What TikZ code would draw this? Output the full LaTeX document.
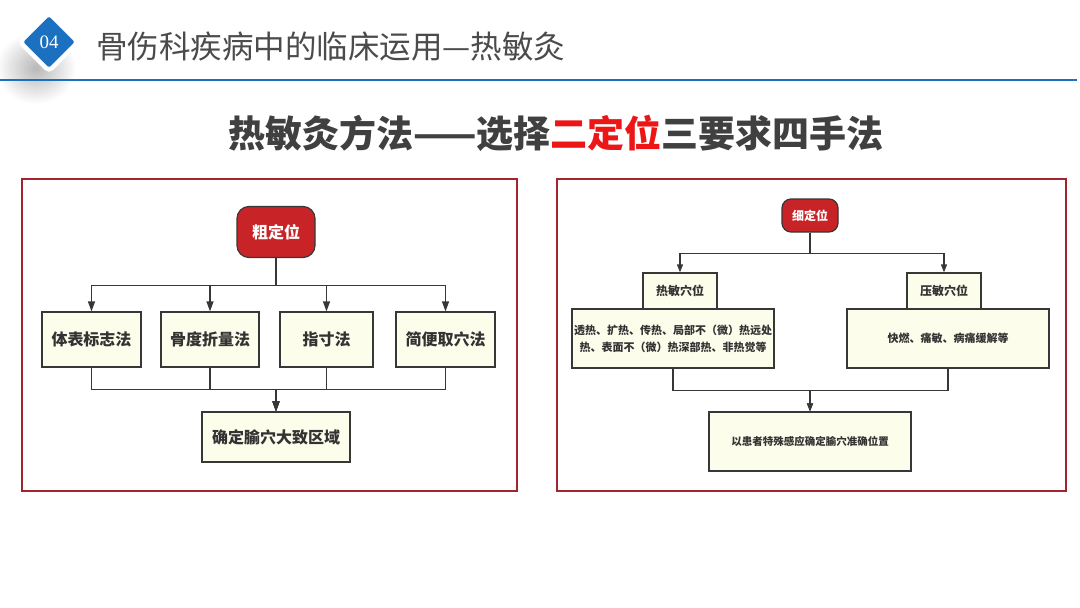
\documentclass[tikz,border=0pt]{standalone}
\usepackage{fontspec}
\setmainfont{Noto Sans CJK SC}
\newfontfamily\numfont{Liberation Serif}
\usepackage{xcolor}
\usetikzlibrary{arrows.meta}

\definecolor{hdblue}{RGB}{28,112,192}
\definecolor{hdgray}{RGB}{75,75,75}
\definecolor{ttgray}{RGB}{64,64,64}
\definecolor{ttred}{RGB}{236,22,22}
\definecolor{framered}{RGB}{165,35,45}
\definecolor{capred}{RGB}{200,36,40}
\definecolor{cream}{RGB}{253,253,236}
\definecolor{lk}{RGB}{55,55,55}

\newcommand{\fsz}[2]{\fontsize{#1pt}{#2pt}\selectfont}

\begin{document}
\begin{tikzpicture}[x=1pt, y=-1pt,
    capnode/.style={draw=lk, line width=1.2pt, fill=capred, text=white, inner sep=0pt},
    methodbox/.style={draw=lk, line width=1.2pt, fill=cream, text=black!80, inner sep=0pt, align=center},
    link/.style={draw=lk, line width=1.2pt},
    arr/.style={link, -{Triangle[length=10pt,width=7pt]}},
    sarr/.style={link, -{Triangle[length=8pt,width=6pt]}}]

    % page
    \fill[white] (0,0) rectangle (1080,608);
    \useasboundingbox (0,0) rectangle (1080,608);

    % Header
    \shade[inner color=black!28, outer color=white] (36,68) ellipse (40pt and 36pt);
    \node[draw=white, line width=4.5pt, fill=hdblue, rounded corners=4pt, minimum size=41pt, rotate=45] (num) at (49,42) {};
    \node[text=white, font=\numfont\fsz{19}{19}] at (num.center) {04};
    \draw[hdblue, line width=2.5pt] (0,80) -- (1077,80);
    \node[anchor=west, text=hdgray, font=\fsz{31.5}{31.5}, inner sep=0pt] (head) at (96,47) {骨伤科疾病中的临床运用—热敏灸};

    % Title
    \node[text=ttgray, font=\bfseries\fsz{37}{37}] (title) at (556,133)
        {热敏灸方法——选择\textcolor{ttred}{二定位}三要求四手法};

    % Frames
    \draw[framered, line width=2pt] (22,179) rectangle (517,491);
    \draw[framered, line width=2pt] (557,179) rectangle (1066,491);

    % Left: coarse positioning
    \node[capnode, rounded corners=12pt, minimum width=78pt, minimum height=51pt, font=\bfseries\fsz{16}{16}] (cu) at (276,232) {粗定位};

    \node[methodbox, minimum width=99pt, minimum height=55pt, font=\bfseries\fsz{16}{16}] (b1) at (91.5,339.5) {体表标志法};
    \node[methodbox, minimum width=98pt, minimum height=55pt, font=\bfseries\fsz{16}{16}] (b2) at (210,339.5) {骨度折量法};
    \node[methodbox, minimum width=93pt, minimum height=55pt, font=\bfseries\fsz{16}{16}] (b3) at (326.5,339.5) {指寸法};
    \node[methodbox, minimum width=99pt, minimum height=55pt, font=\bfseries\fsz{16}{16}] (b4) at (445.5,339.5) {简便取穴法};

    \node[methodbox, minimum width=148pt, minimum height=50pt, font=\bfseries\fsz{16}{16}] (res) at (276,437) {确定腧穴大致区域};

    \foreach \b in {b1,b2,b3,b4}
        \draw[arr] (cu.south) -- ++(0,27.5) -| (\b.north);
    \foreach \b in {b1,b2,b3,b4}
        \draw[arr] (\b.south) -- ++(0,22) -| (res.north);

    % Right: fine positioning
    \node[capnode, rounded corners=9pt, minimum width=56pt, minimum height=33pt, font=\bfseries\fsz{12}{12}] (xi) at (810,215.5) {细定位};

    \node[methodbox, minimum width=74pt, minimum height=36pt, font=\bfseries\fsz{12}{12}] (rm) at (680,291) {热敏穴位};
    \node[methodbox, minimum width=202pt, minimum height=59pt, font=\bfseries\fsz{11}{17}] (rmt) at (673,338.5)
        {透热、扩热、传热、局部不（微）热远处\\热、表面不（微）热深部热、非热觉等};

    \node[methodbox, minimum width=74pt, minimum height=36pt, font=\bfseries\fsz{12}{12}] (ym) at (944,291) {压敏穴位};
    \node[methodbox, minimum width=202pt, minimum height=59pt, font=\bfseries\fsz{11}{11}] (ymt) at (948,338.5) {快燃、痛敏、病痛缓解等};

    \node[methodbox, minimum width=202pt, minimum height=59pt, font=\bfseries\fsz{10.5}{10.5}] (fin) at (810,441.5) {以患者特殊感应确定腧穴准确位置};

    \foreach \b in {rm,ym}
        \draw[sarr] (xi.south) -- ++(0,21) -| (\b.north);
    \foreach \b in {rmt,ymt}
        \draw[sarr] (\b.south) -- ++(0,22) -| (fin.north);

\end{tikzpicture}
\end{document}
